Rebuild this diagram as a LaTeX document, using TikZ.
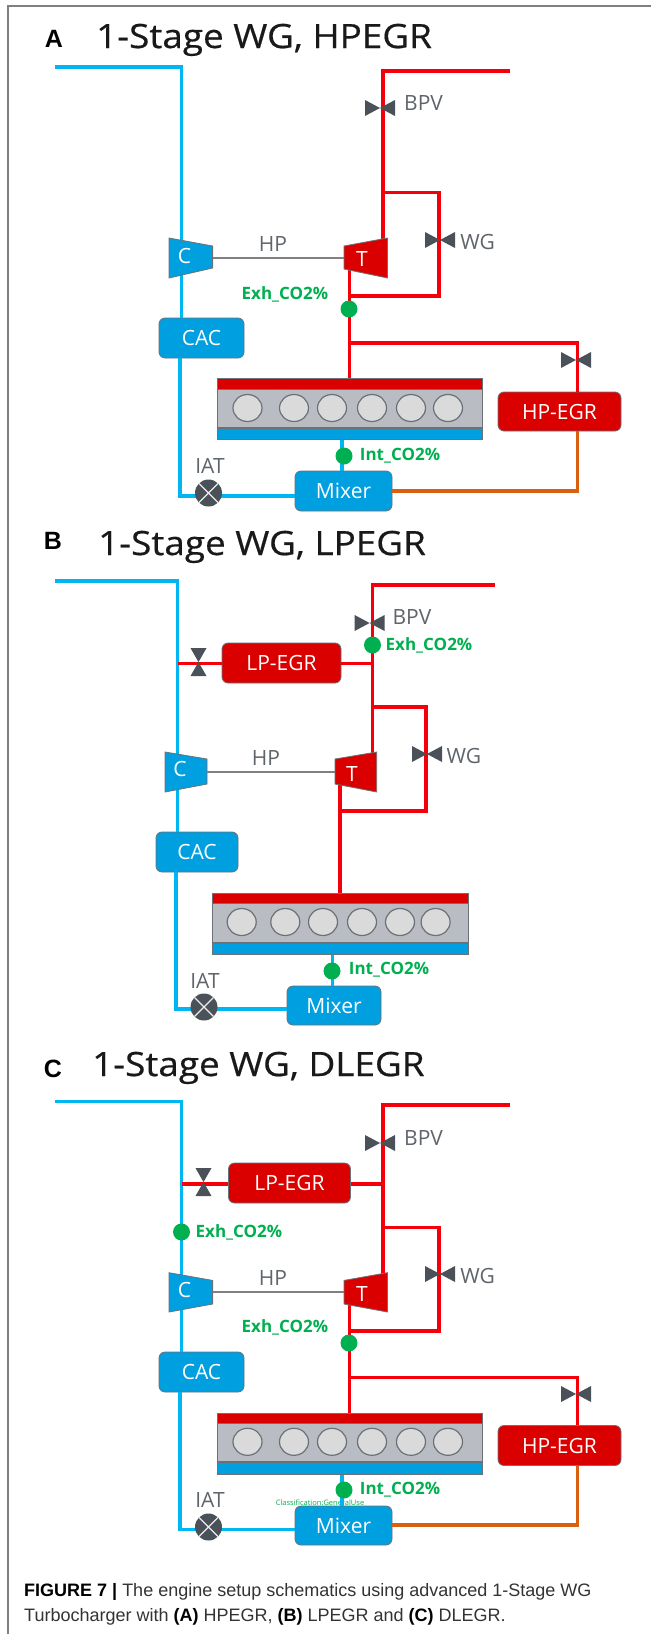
\documentclass[tikz,border=0pt]{standalone}
\usepackage{fontspec}
\usepackage{tikz}
\usetikzlibrary{shapes.geometric}
\setmainfont{Open Sans}
\newfontfamily\capfont{Liberation Sans}
\newfontfamily\titlefont[FakeBold=0.5,FakeStretch=1.1]{Open Sans}
\definecolor{airblue}{HTML}{00B6F2}
\definecolor{boxblue}{HTML}{009FE0}
\definecolor{gasred}{HTML}{F5000A}
\definecolor{boxred}{HTML}{DB0000}
\definecolor{egrorange}{HTML}{D9600F}
\definecolor{edgegray}{HTML}{6A7278}
\definecolor{darkgray}{HTML}{4B5158}
\definecolor{labelgray}{HTML}{5F656B}
\definecolor{sensegreen}{HTML}{00B050}
\definecolor{blockgray}{HTML}{B9BCC2}
\definecolor{cylgray}{HTML}{DADADA}
\tikzset{
	airpipe/.style={draw=airblue, line width=3.7pt},
	gaspipe/.style={draw=gasred, line width=3.7pt},
	egrpipe/.style={draw=egrorange, line width=3.7pt},
	shaft/.style={draw=gray, line width=2pt},
	bluebox/.style={draw=edgegray, line width=0.8pt, fill=boxblue, rounded corners=6pt, text=white, inner sep=0pt, font=\fontsize{21}{25}\selectfont},
	redbox/.style={bluebox, fill=boxred},
	bluecomp/.style={draw=edgegray, line width=0.8pt, fill=boxblue},
	redcomp/.style={draw=edgegray, line width=0.8pt, fill=boxred},
	complabel/.style={text=white, inner sep=0pt, font=\fontsize{21}{25}\selectfont},
	grayname/.style={text=labelgray, inner sep=0pt, font=\fontsize{21}{25}\selectfont},
	sensename/.style={text=sensegreen, inner sep=0pt, font=\fontsize{17}{20}\selectfont\bfseries},
	sensedot/.style={circle, fill=sensegreen, minimum size=17pt, inner sep=0pt},
	panelname/.style={inner sep=0pt, anchor=base, font=\capfont\fontsize{25}{30}\selectfont\bfseries},
	paneltitle/.style={inner sep=0pt, anchor=base west, text=black!90, font=\titlefont\fontsize{33.5}{38}\selectfont},
	valveh/.style={minimum width=30pt, minimum height=16pt, inner sep=0pt, path picture={
		\fill[darkgray] (path picture bounding box.north west) -- (path picture bounding box.south east)
			-- (path picture bounding box.north east) -- (path picture bounding box.south west) -- cycle;}},
	valvev/.style={minimum width=16pt, minimum height=28pt, inner sep=0pt, path picture={
		\fill[darkgray] (path picture bounding box.north west) -- (path picture bounding box.south east)
			-- (path picture bounding box.south west) -- (path picture bounding box.north east) -- cycle;}},
	iatsensor/.style={circle, fill=darkgray, minimum size=27pt, inner sep=0pt, path picture={
		\draw[white!85!gray, line width=1.2pt] (path picture bounding box.north west) -- (path picture bounding box.south east)
			(path picture bounding box.north east) -- (path picture bounding box.south west);}},
	cylinder/.style={ellipse, draw=edgegray, line width=1.2pt, fill=cylgray, minimum width=29pt, minimum height=27pt, inner sep=0pt},
	redstrip/.style={fill=boxred, draw=edgegray, line width=0.5pt},
	bluestrip/.style={fill=boxblue, draw=edgegray, line width=0.5pt},
	graystrip/.style={fill=blockgray, draw=edgegray, line width=1pt}
}
\begin{document}
\begin{tikzpicture}[x=1pt, y=-1pt]
	\useasboundingbox (0,0) rectangle (651,1634);
	\fill[white] (0,0) rectangle (651,1634);
	\coordinate (frameTop) at (651,6);
	\coordinate (frameCorner) at (8,6);
	\coordinate (frameEnd) at (8,1634);
	\draw[draw=gray, line width=1.2pt] (frameTop) -- (frameCorner) -- (frameEnd);

	\node[panelname] (aName) at (54,47.5) {A};
	\node[paneltitle] (aTitle) at (96,48) {1-Stage WG, HPEGR};
	\node[bluebox, minimum width=85pt, minimum height=40pt] (aCAC) at (201.5,338) {CAC};
	\node[bluebox, minimum width=97pt, minimum height=40pt] (aMixer) at (343.5,491) {Mixer};
	\node[redbox, minimum width=123pt, minimum height=39pt] (aEGR) at (559.5,411.5) {HP-EGR};
	\coordinate (aAirIn) at (55,67);
	\coordinate (aAirTop) at (181.5,67);
	\coordinate (aAirLow) at (180,496);
	\coordinate (aGasOut) at (509.5,71);
	\coordinate (aGasTop) at (383,71);
	\coordinate (aGasT) at (383,240);
	\coordinate (aLoopA) at (383,192.5);
	\coordinate (aLoopB) at (439,192.5);
	\coordinate (aLoopC) at (439,296);
	\coordinate (aLoopD) at (349.5,296);
	\coordinate (aTout) at (349.5,268);
	\coordinate (aEngTop) at (349.5,378);
	\coordinate (aBranchA) at (349.5,343);
	\coordinate (aBranchB) at (577.5,343);
	\coordinate (aOrange) at (577.5,491);
	\coordinate (aIntTop) at (342,439);
	\draw[airpipe] (aAirIn) -- (aAirTop) -- (aAirTop |- aCAC.north);
	\draw[airpipe] (aAirLow |- aCAC.south) -- (aAirLow) -- (aMixer.west |- aAirLow);
	\draw[airpipe] (aIntTop) -- (aIntTop |- aMixer.north);
	\draw[gaspipe] (aGasOut) -- (aGasTop) -- (aGasT);
	\draw[gaspipe] (aLoopA) -- (aLoopB) -- (aLoopC) -- (aLoopD);
	\draw[gaspipe] (aTout) -- (aEngTop);
	\draw[gaspipe] (aBranchA) -- (aBranchB) -- (aBranchB |- aEGR.north);
	\draw[egrpipe] (aOrange |- aEGR.south) -- (aOrange) -- (aMixer.east);
	\draw[bluecomp] (169,238) -- (212.6,246) -- (212.6,268) -- (169,278) -- cycle;
	\draw[redcomp] (344,246) -- (387.5,238) -- (387.5,278) -- (344,269) -- cycle;
	\coordinate (aShaftL) at (212.6,258);
	\coordinate (aShaftR) at (344,258);
	\draw[shaft] (aShaftL) -- (aShaftR);
	\node[complabel] (aCname) at (184.5,256) {C};
	\node[complabel] (aTname) at (362,259) {T};
	\node[grayname] (aHP) at (273,244) {HP};
	\node[valveh] (aBPV) at (380,108) {};
	\node[grayname] (aBPVname) at (423.6,103) {BPV};
	\node[valveh] (aWG) at (440,240) {};
	\node[grayname] (aWGname) at (477.6,242) {WG};
	\node[valveh] (aEGRv) at (576,360) {};
	\node[sensedot] (aExh) at (349,309) {};
	\node[sensename] (aExhname) at (285,294) {Exh\_CO2\%};
	\filldraw[redstrip] (217,378) rectangle (482,389);
	\filldraw[graystrip] (217,389) rectangle (482,427);
	\filldraw[bluestrip] (217,428) rectangle (482,439);
	\node[cylinder] (aCylA) at (247.5,408) {};
	\node[cylinder] (aCylB) at (294,408) {};
	\node[cylinder] (aCylC) at (332,408) {};
	\node[cylinder] (aCylD) at (372,408) {};
	\node[cylinder] (aCylE) at (411,408) {};
	\node[cylinder] (aCylF) at (448,408) {};
	\node[sensedot] (aInt) at (344,456) {};
	\node[sensename] (aIntname) at (400,456) {Int\_CO2\%};
	\node[iatsensor] (aIAT) at (208.5,493) {};
	\node[grayname] (aIATname) at (210,466) {IAT};

	\node[panelname] (bName) at (53,549) {B};
	\node[paneltitle] (bTitle) at (98,555) {1-Stage WG, LPEGR};
	\node[bluebox, minimum width=82pt, minimum height=40pt] (bCAC) at (197,852) {CAC};
	\node[bluebox, minimum width=94pt, minimum height=39pt] (bMixer) at (334,1005.5) {Mixer};
	\node[redbox, minimum width=119pt, minimum height=40pt] (bEGR) at (281.5,663) {LP-EGR};
	\coordinate (bAirIn) at (55,581);
	\coordinate (bAirTop) at (177.5,581);
	\coordinate (bAirLow) at (176,1009);
	\coordinate (bGasOut) at (494.5,585);
	\coordinate (bGasTop) at (372.5,585);
	\coordinate (bGasT) at (372.5,754);
	\coordinate (bLoopA) at (372.5,707);
	\coordinate (bLoopB) at (426,707);
	\coordinate (bLoopC) at (426,811);
	\coordinate (bLoopD) at (340,811);
	\coordinate (bTout) at (340,782);
	\coordinate (bEngTop) at (340,893);
	\coordinate (bEgrAir) at (177.5,663.5);
	\coordinate (bEgrGas) at (372.5,663.5);
	\coordinate (bIntTop) at (332.6,954);
	\draw[airpipe] (bAirIn) -- (bAirTop) -- (bAirTop |- bCAC.north);
	\draw[airpipe] (bAirLow |- bCAC.south) -- (bAirLow) -- (bMixer.west |- bAirLow);
	\draw[airpipe] (bIntTop) -- (bIntTop |- bMixer.north);
	\draw[gaspipe] (bGasOut) -- (bGasTop) -- (bGasT);
	\draw[gaspipe] (bLoopA) -- (bLoopB) -- (bLoopC) -- (bLoopD);
	\draw[gaspipe] (bTout) -- (bEngTop);
	\draw[gaspipe] (bEgrAir) -- (bEGR.west |- bEgrAir);
	\draw[gaspipe] (bEGR.east |- bEgrGas) -- (bEgrGas);
	\draw[bluecomp] (165,752) -- (207,759) -- (207,784) -- (165,792) -- cycle;
	\draw[redcomp] (335,759) -- (376.7,752) -- (376.7,792) -- (335,784) -- cycle;
	\coordinate (bShaftL) at (207,772);
	\coordinate (bShaftR) at (335,772);
	\draw[shaft] (bShaftL) -- (bShaftR);
	\node[complabel] (bCname) at (180,769) {C};
	\node[complabel] (bTname) at (352,774) {T};
	\node[grayname] (bHP) at (266,758) {HP};
	\node[valveh] (bBPV) at (369.6,623) {};
	\node[grayname] (bBPVname) at (412,617) {BPV};
	\node[valveh] (bWG) at (427,754) {};
	\node[grayname] (bWGname) at (464,756) {WG};
	\node[valvev] (bEGRv) at (198.5,662) {};
	\node[sensedot] (bExh) at (372.5,645) {};
	\node[sensename] (bExhname) at (429,645) {Exh\_CO2\%};
	\filldraw[redstrip] (212,893) rectangle (468,903);
	\filldraw[graystrip] (212,903) rectangle (468,942);
	\filldraw[bluestrip] (212,943) rectangle (468,954);
	\node[cylinder] (bCylA) at (241.7,922) {};
	\node[cylinder] (bCylB) at (285.3,922) {};
	\node[cylinder] (bCylC) at (323,922) {};
	\node[cylinder] (bCylD) at (362,922) {};
	\node[cylinder] (bCylE) at (400,922) {};
	\node[cylinder] (bCylF) at (435.6,922) {};
	\node[sensedot] (bInt) at (332,971) {};
	\node[sensename] (bIntname) at (389,970) {Int\_CO2\%};
	\node[iatsensor] (bIAT) at (204,1007) {};
	\node[grayname] (bIATname) at (205,981) {IAT};

	\node[panelname] (cName) at (53,1077) {C};
	\node[paneltitle] (cTitle) at (92,1076) {1-Stage WG, DLEGR};
	\node[bluebox, minimum width=85pt, minimum height=40pt] (cCAC) at (201.5,1372) {CAC};
	\node[bluebox, minimum width=97pt, minimum height=39pt] (cMixer) at (343.5,1525.5) {Mixer};
	\node[redbox, minimum width=122pt, minimum height=40pt] (cLP) at (289.5,1183) {LP-EGR};
	\node[redbox, minimum width=123pt, minimum height=40pt] (cHP) at (559.5,1445.5) {HP-EGR};
	\coordinate (cAirIn) at (55,1101.5);
	\coordinate (cAirTop) at (181.5,1101.5);
	\coordinate (cAirLow) at (180,1529.5);
	\coordinate (cGasOut) at (509.5,1105);
	\coordinate (cGasTop) at (383,1105);
	\coordinate (cGasT) at (383,1275);
	\coordinate (cLoopA) at (383,1227.5);
	\coordinate (cLoopB) at (439,1227.5);
	\coordinate (cLoopC) at (439,1331);
	\coordinate (cLoopD) at (349.5,1331);
	\coordinate (cTout) at (349.5,1302);
	\coordinate (cEngTop) at (349.5,1413);
	\coordinate (cBranchA) at (349.5,1377.5);
	\coordinate (cBranchB) at (577.5,1377.5);
	\coordinate (cOrange) at (577.5,1525);
	\coordinate (cIntTop) at (342,1474);
	\coordinate (cEgrAir) at (181.5,1184);
	\coordinate (cEgrGas) at (383,1184);
	\node[text=sensegreen, inner sep=0pt, font=\fontsize{7.5}{9}\selectfont] (cClass) at (320,1503) {Classification:GeneralUse};
	\draw[airpipe] (cAirIn) -- (cAirTop) -- (cAirTop |- cCAC.north);
	\draw[airpipe] (cAirLow |- cCAC.south) -- (cAirLow) -- (cMixer.west |- cAirLow);
	\draw[airpipe] (cIntTop) -- (cIntTop |- cMixer.north);
	\draw[gaspipe] (cGasOut) -- (cGasTop) -- (cGasT);
	\draw[gaspipe] (cLoopA) -- (cLoopB) -- (cLoopC) -- (cLoopD);
	\draw[gaspipe] (cTout) -- (cEngTop);
	\draw[gaspipe] (cBranchA) -- (cBranchB) -- (cBranchB |- cHP.north);
	\draw[egrpipe] (cOrange |- cHP.south) -- (cOrange) -- (cMixer.east |- cOrange);
	\draw[gaspipe] (cEgrAir) -- (cLP.west |- cEgrAir);
	\draw[gaspipe] (cLP.east |- cEgrGas) -- (cEgrGas);
	\draw[bluecomp] (169,1272.7) -- (212.6,1280.4) -- (212.6,1304) -- (169,1312) -- cycle;
	\draw[redcomp] (344,1280.4) -- (387.5,1272.7) -- (387.5,1312) -- (344,1304) -- cycle;
	\coordinate (cShaftL) at (212.6,1292);
	\coordinate (cShaftR) at (344,1292);
	\draw[shaft] (cShaftL) -- (cShaftR);
	\node[complabel] (cCname) at (184.5,1289.6) {C};
	\node[complabel] (cTname) at (362,1293.5) {T};
	\node[grayname] (cHPname) at (273,1278) {HP};
	\node[valveh] (cBPV) at (380,1143) {};
	\node[grayname] (cBPVname) at (423.6,1137.5) {BPV};
	\node[valveh] (cWG) at (440,1274) {};
	\node[grayname] (cWGname) at (477.6,1275.8) {WG};
	\node[valveh] (cHPv) at (576,1394) {};
	\node[valvev] (cLPv) at (203.5,1182) {};
	\node[sensedot] (cExhA) at (181.5,1232) {};
	\node[sensename] (cExhAname) at (239,1232) {Exh\_CO2\%};
	\node[sensedot] (cExhB) at (349,1343) {};
	\node[sensename] (cExhBname) at (285,1327.8) {Exh\_CO2\%};
	\filldraw[redstrip] (217,1413) rectangle (482,1423);
	\filldraw[graystrip] (217,1423) rectangle (482,1461);
	\filldraw[bluestrip] (217,1462) rectangle (482,1474);
	\node[cylinder] (cCylA) at (247.5,1441.8) {};
	\node[cylinder] (cCylB) at (294,1441.8) {};
	\node[cylinder] (cCylC) at (332,1441.8) {};
	\node[cylinder] (cCylD) at (372,1441.8) {};
	\node[cylinder] (cCylE) at (411,1441.8) {};
	\node[cylinder] (cCylF) at (448,1441.8) {};
	\node[sensedot] (cInt) at (344,1490) {};
	\node[sensename] (cIntname) at (400,1490) {Int\_CO2\%};
	\node[iatsensor] (cIAT) at (208.5,1527) {};
	\node[grayname] (cIATname) at (210,1500) {IAT};

	\node[anchor=west, inner sep=0pt, text=black!80, font=\capfont\fontsize{18}{22}\selectfont] (capA) at (24,1592) {\textcolor{black}{\textbf{FIGURE 7 |}} The engine setup schematics using advanced 1-Stage WG};
	\node[anchor=west, inner sep=0pt, text=black!80, font=\capfont\fontsize{18}{22}\selectfont] (capB) at (24,1617) {Turbocharger with \textbf{\textcolor{black}{(A)}} HPEGR, \textbf{\textcolor{black}{(B)}} LPEGR and \textbf{\textcolor{black}{(C)}} DLEGR.};
\end{tikzpicture}
\end{document}
